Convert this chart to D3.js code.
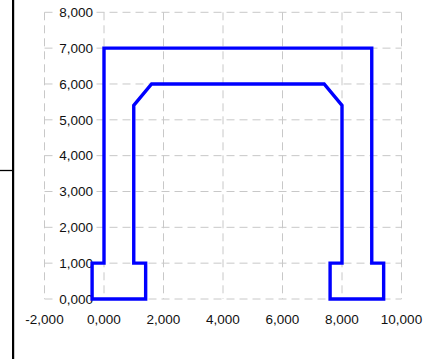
<!DOCTYPE html>
<html lang="en">
<head>
    <meta charset="UTF-8">
    <title>Section</title>
    <script src="https://d3js.org/d3.v7.min.js"></script>
    <style>
        body, html {
            margin: 0;
            background: #fff;
            overflow: hidden;
        }
        .grid line {
            stroke: #c8c8c8;
            stroke-width: 1px;
            stroke-dasharray: 8, 5;
        }
        .lbl {
            font: 13.5px "Liberation Sans", Arial, sans-serif;
            fill: #111;
        }
        .shape {
            fill: none;
            stroke: #0000ff;
            stroke-width: 3.4px;
            stroke-linejoin: miter;
        }
    </style>
</head>
<body>
    <script>
        // polygon vertices (x, y) in chart units
        const pointsX = [-0.4, -0.4, 0, 0, 9, 9, 9.4, 9.4, 7.6, 7.6, 8, 8, 7.4, 1.6, 1, 1, 1.4, 1.4, -0.4];
        const pointsY = [0, 1, 1, 7, 7, 1, 1, 0, 0, 1, 1, 5.4, 6, 6, 5.4, 1, 1, 0, 0];

        const xTicks = [-2, 0, 2, 4, 6, 8, 10];
        const yTicks = [0, 1, 2, 3, 4, 5, 6, 7, 8];

        const width = 428, height = 359;

        const svg = d3.select('body').append('svg')
            .attr('width', width)
            .attr('height', height);

        const x = d3.scaleLinear().domain([-2, 10]).range([44.5, 401.5]);
        const y = d3.scaleLinear().domain([0, 8]).range([299, 12.3]);

        const fmt = d3.formatLocale({decimal: ",", thousands: ".", grouping: [3], currency: ["", ""], minus: "-"}).format(".3f");

        // side border
        svg.append('line')
            .attr('x1', 13).attr('x2', 13).attr('y1', 0).attr('y2', height)
            .attr('stroke', '#000').attr('stroke-width', 2);
        svg.append('line')
            .attr('x1', 14.5).attr('x2', 14.5).attr('y1', 0).attr('y2', height)
            .attr('stroke', '#ccc').attr('stroke-width', 1);
        svg.append('line')
            .attr('x1', 0).attr('x2', 13).attr('y1', 170.5).attr('y2', 170.5)
            .attr('stroke', '#000').attr('stroke-width', 1.3);

        const grid = svg.append('g').attr('class', 'grid');
        grid.selectAll('.gx')
            .data(xTicks)
            .enter().append('line')
            .attr('x1', d => x(d)).attr('x2', d => x(d))
            .attr('y1', y(8)).attr('y2', y(0));
        grid.selectAll('.gy')
            .data(yTicks)
            .enter().append('line')
            .attr('y1', d => y(d)).attr('y2', d => y(d))
            .attr('x1', x(-2)).attr('x2', x(10));

        // y labels with white background
        const yl = svg.append('g');
        yl.selectAll('text')
            .data(yTicks)
            .enter().append('text')
            .attr('class', 'lbl')
            .attr('x', x(0) - 11)
            .attr('y', d => y(d))
            .attr('dy', '0.35em')
            .attr('text-anchor', 'end')
            .text(d => fmt(d))
            .each(function () {
                const b = this.getBBox();
                yl.insert('rect', 'text')
                    .attr('x', b.x - 3).attr('y', b.y)
                    .attr('width', b.width + 4).attr('height', b.height)
                    .attr('fill', '#fff');
            });

        svg.append('g').selectAll('text')
            .data(xTicks)
            .enter().append('text')
            .attr('class', 'lbl')
            .attr('x', d => x(d))
            .attr('y', 319)
            .attr('dy', '0.35em')
            .attr('text-anchor', 'middle')
            .text(d => fmt(d));

        const line = d3.line()
            .x(i => x(pointsX[i]))
            .y(i => y(pointsY[i]));

        svg.append('path')
            .attr('class', 'shape')
            .attr('d', line(d3.range(pointsX.length)) + 'Z');
    </script>
</body>
</html>
